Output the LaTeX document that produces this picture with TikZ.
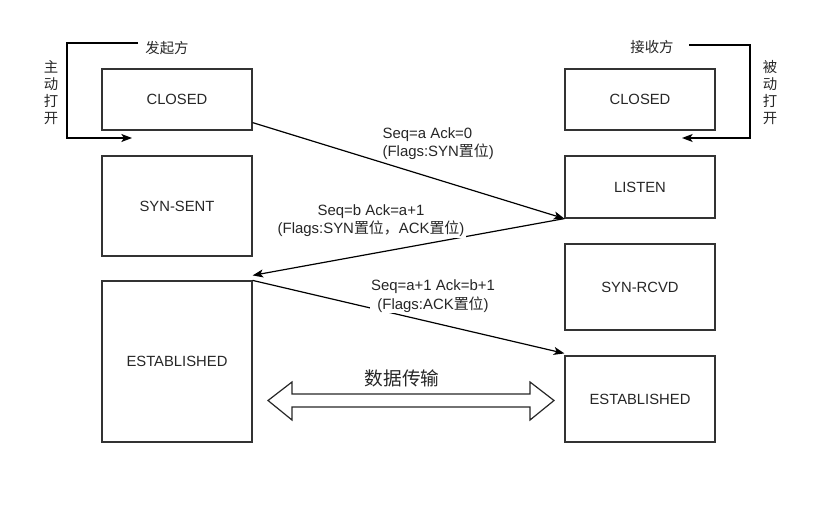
\documentclass[tikz,border=0pt]{standalone}
\usepackage{fontspec}
\setmainfont{Liberation Sans}
\newfontfamily\cjk{Noto Sans CJK SC}
\usetikzlibrary{arrows.meta}

\begin{document}
\begin{tikzpicture}[x=0.75pt, y=-0.75pt]
    % Define styles
    \tikzstyle{state} = [rectangle, draw=black!80, line width=0.9pt, minimum width=112.5pt, inner sep=0pt, text=black!85, font=\fontsize{11.1}{13}\selectfont]
    \tikzstyle{msg} = [align=center, inner sep=1pt, text=black!85, font=\fontsize{11.2}{13.8}\selectfont]
    \tikzstyle{side} = [align=center, inner sep=0pt, text=black!85, font=\cjk\fontsize{10.8}{12.75}\selectfont]
    \tikzstyle{wire} = [draw=black, line width=0.9pt, -{Stealth[length=8pt, width=6pt, inset=2pt]}]

    \useasboundingbox (0,0) rectangle (835,506);

    % Sender states
    \node[state, minimum height=45.75pt] (closedA) at (177, 99.5) {CLOSED};
    \node[state, minimum height=75pt] (synsent) at (177, 206) {SYN-SENT};
    \node[state, minimum height=120.75pt] (estA) at (177, 361.5) {ESTABLISHED};

    % Receiver states
    \node[state, minimum height=45.75pt] (closedB) at (640, 99.5) {CLOSED};
    \node[state, minimum height=46.5pt] (listen) at (640, 187) {LISTEN};
    \node[state, minimum height=64.5pt] (synrcvd) at (640, 287) {SYN-RCVD};
    \node[state, minimum height=64.5pt] (estB) at (640, 399) {ESTABLISHED};

    % Open loops
    \node[side] (sender) at (167, 48) {发起方};
    \node[side] (active) at (51, 93) {主\\动\\打\\开};
    \coordinate (loopA) at (138, 43);
    \coordinate (openA) at (132, 138);
    \draw[wire] (loopA) -- ++(-71, 0) |- (openA);

    \node[side] (receiver) at (652, 47) {接收方};
    \node[side] (passive) at (770, 93) {被\\动\\打\\开};
    \coordinate (loopB) at (689, 45);
    \coordinate (openB) at (682, 138);
    \draw[wire] (loopB) -- ++(61, 0) |- (openB);

    % Handshake
    \draw[wire] (closedA.-17) -- (listen.south west);
    \draw[wire] (listen.south west) -- ([yshift=3.75pt]estA.north east);
    \draw[wire] (estA.north east) -- ([yshift=1.5pt]estB.north west);

    \node[msg, anchor=west, align=left] (syn) at (381, 143.5) {Seq=a Ack=0\\(Flags:SYN{\cjk 置位})};
    \node[msg, fill=white] (synack) at (371, 220.5) {Seq=b Ack=a+1\\(Flags:SYN{\cjk 置位，}ACK{\cjk 置位})};
    \node[msg, fill=white] (ack) at (433, 296) {Seq=a+1 Ack=b+1\\(Flags:ACK{\cjk 置位})};

    % Data transfer
    \draw[draw=black!85, line width=0.9pt] (268, 400.5) -- (292, 382) -- (292, 394) -- (530, 394) -- (530, 382) -- (554, 400.5) -- (530, 420) -- (530, 407) -- (292, 407) -- (292, 420) -- cycle;
    \node[text=black!85, font=\cjk\fontsize{14}{16}\selectfont] (xfer) at (402, 378) {数据传输};

\end{tikzpicture}
\end{document}
